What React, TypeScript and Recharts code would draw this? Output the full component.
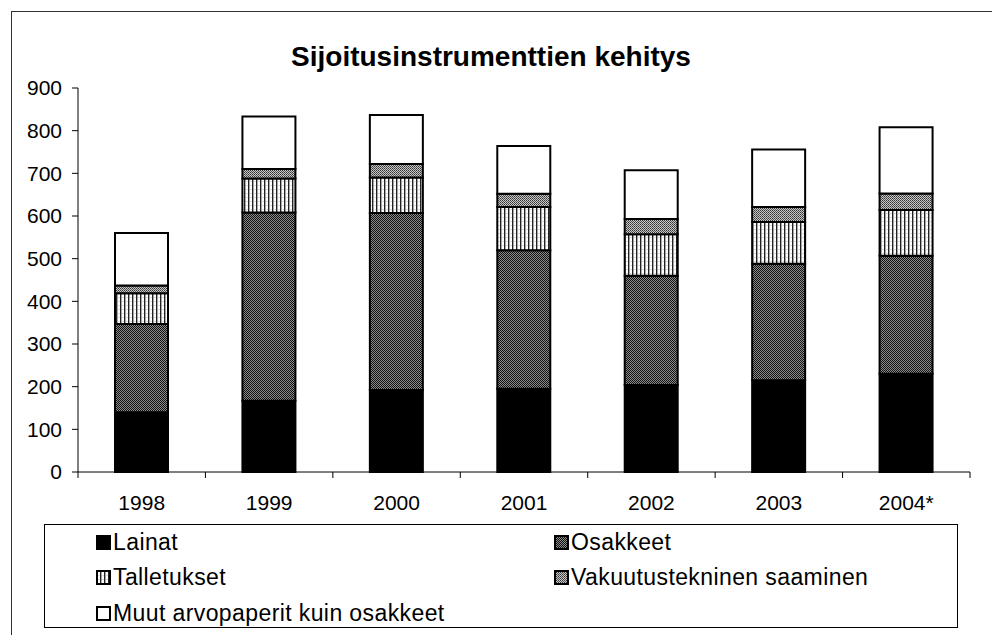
import { BarChart, Bar, XAxis, YAxis, Legend } from 'recharts'

const years = ['1998', '1999', '2000', '2001', '2002', '2003', '2004*']
const lainat = [140, 167, 192, 195, 204, 215, 230]
const osakkeet = [207, 441, 415, 325, 256, 273, 277]
const talletukset = [72, 80, 83, 101, 97, 98, 107]
const vakuutus = [18, 22, 32, 31, 36, 35, 39]
const muut = [123, 123, 115, 112, 114, 135, 155]
const yTicks = [0, 100, 200, 300, 400, 500, 600, 700, 800, 900]

const seriesKeys = ['lainat', 'osakkeet', 'talletukset', 'vakuutus', 'muut']
const seriesNames = [
  'Lainat',
  'Osakkeet',
  'Talletukset',
  'Vakuutustekninen saaminen',
  'Muut arvopaperit kuin osakkeet',
]
const seriesFills = ['#000', 'url(#pOsak)', 'url(#pTall)', 'url(#pVak)', '#fff']

const data = years.map((year, i) => ({
  year,
  lainat: lainat[i],
  osakkeet: osakkeet[i],
  talletukset: talletukset[i],
  vakuutus: vakuutus[i],
  muut: muut[i],
}))

const FONT = "'Liberation Sans', Arial, sans-serif"

function Patterns() {
  return (
    <defs>
      <pattern id="pOsak" width="2" height="2" patternUnits="userSpaceOnUse">
        <rect width="2" height="2" fill="#8c8c8c" />
        <rect width="1" height="1" fill="#111" />
        <rect x="1" y="1" width="1" height="1" fill="#111" />
      </pattern>
      <pattern id="pTall" width="4" height="4" patternUnits="userSpaceOnUse">
        <rect width="4" height="4" fill="#fff" />
        <rect x="0" width="1.4" height="4" fill="#222" />
        <rect x="2.5" y="1" width="1" height="1" fill="#bbb" />
      </pattern>
      <pattern id="pVak" width="2" height="2" patternUnits="userSpaceOnUse">
        <rect width="2" height="2" fill="#c8c8c8" />
        <rect width="1" height="1" fill="#333" />
        <rect x="1" y="1" width="1" height="1" fill="#555" />
      </pattern>
    </defs>
  )
}

function XTick(props: any) {
  const { x, y, payload } = props
  const half = payload.offset || 63.7
  const axisY = y - 23
  const last = payload.value === years[years.length - 1]
  return (
    <g>
      <line x1={x - half} y1={axisY} x2={x - half} y2={axisY + 6} stroke="#000" />
      {last && <line x1={x + half} y1={axisY} x2={x + half} y2={axisY + 6} stroke="#000" />}
      <text x={x} y={y} dy="0.71em" textAnchor="middle" fontSize={21} fontFamily={FONT} fill="#000">
        {payload.value}
      </text>
    </g>
  )
}

function LegendIcon({ fill }: { fill: string }) {
  return (
    <svg width={15} height={15} style={{ display: 'block' }}>
      <rect x={1} y={1} width={13} height={13} fill={fill} stroke="#000" strokeWidth={2} />
    </svg>
  )
}

function LegendBox() {
  const cols = [51, 509]
  const rows = [17, 52, 88]
  return (
    <div
      style={{
        position: 'relative',
        width: 914,
        height: 104,
        border: '1px solid #000',
        boxSizing: 'border-box',
        background: '#fff',
        fontFamily: FONT,
        fontSize: 23,
        color: '#000',
      }}
    >
      {seriesNames.map((name, i) => (
        <div
          key={name}
          style={{
            position: 'absolute',
            left: cols[i % 2],
            top: rows[Math.floor(i / 2)] - 13,
            height: 26,
            display: 'flex',
            alignItems: 'center',
            whiteSpace: 'nowrap',
            letterSpacing: 0.4,
          }}
        >
          <LegendIcon fill={seriesFills[i]} />
          <span style={{ marginLeft: 2 }}>{name}</span>
        </div>
      ))}
    </div>
  )
}

export default function App() {
  return (
    <div
      style={{
        position: 'absolute',
        left: 0,
        top: 0,
        width: 992,
        height: 635,
        overflow: 'hidden',
        background: '#fff',
      }}
    >
      <div
        style={{
          position: 'absolute',
          left: 11,
          top: 11,
          width: 1000,
          height: 700,
          border: '1px solid #333',
        }}
      />
      <div
        style={{
          position: 'absolute',
          left: 0,
          top: 42,
          width: 982,
          textAlign: 'center',
          fontFamily: FONT,
          fontWeight: 'bold',
          fontSize: 28,
          lineHeight: '30px',
        }}
      >
        Sijoitusinstrumenttien kehitys
      </div>
      <div style={{ position: 'absolute', left: 0, top: 0 }}>
        <BarChart
          width={992}
          height={635}
          data={data}
          barSize={53}
          margin={{ top: 88, right: 22, bottom: 133, left: 18 }}
        >
          <Patterns />
          <XAxis
            dataKey="year"
            height={30}
            tickLine={false}
            tickSize={6}
            tickMargin={17}
            axisLine={{ stroke: '#000' }}
            tick={<XTick />}
            interval={0}
          />
          <YAxis
            width={60}
            domain={[0, 900]}
            ticks={yTicks}
            interval={0}
            tickSize={6}
            tickMargin={10}
            axisLine={{ stroke: '#000' }}
            tickLine={{ stroke: '#000' }}
            tick={{ fill: '#000', fontSize: 21, fontFamily: FONT }}
          />
          {seriesKeys.map((key, i) => (
            <Bar
              key={key}
              dataKey={key}
              name={seriesNames[i]}
              stackId="a"
              fill={seriesFills[i]}
              stroke="#000"
              strokeWidth={2}
              isAnimationActive={false}
            />
          ))}
          <Legend
            layout="horizontal"
            verticalAlign="middle"
            align="center"
            wrapperStyle={{ left: 44, top: 524, width: 914, height: 104 }}
            content={() => <LegendBox />}
          />
        </BarChart>
      </div>
    </div>
  )
}
